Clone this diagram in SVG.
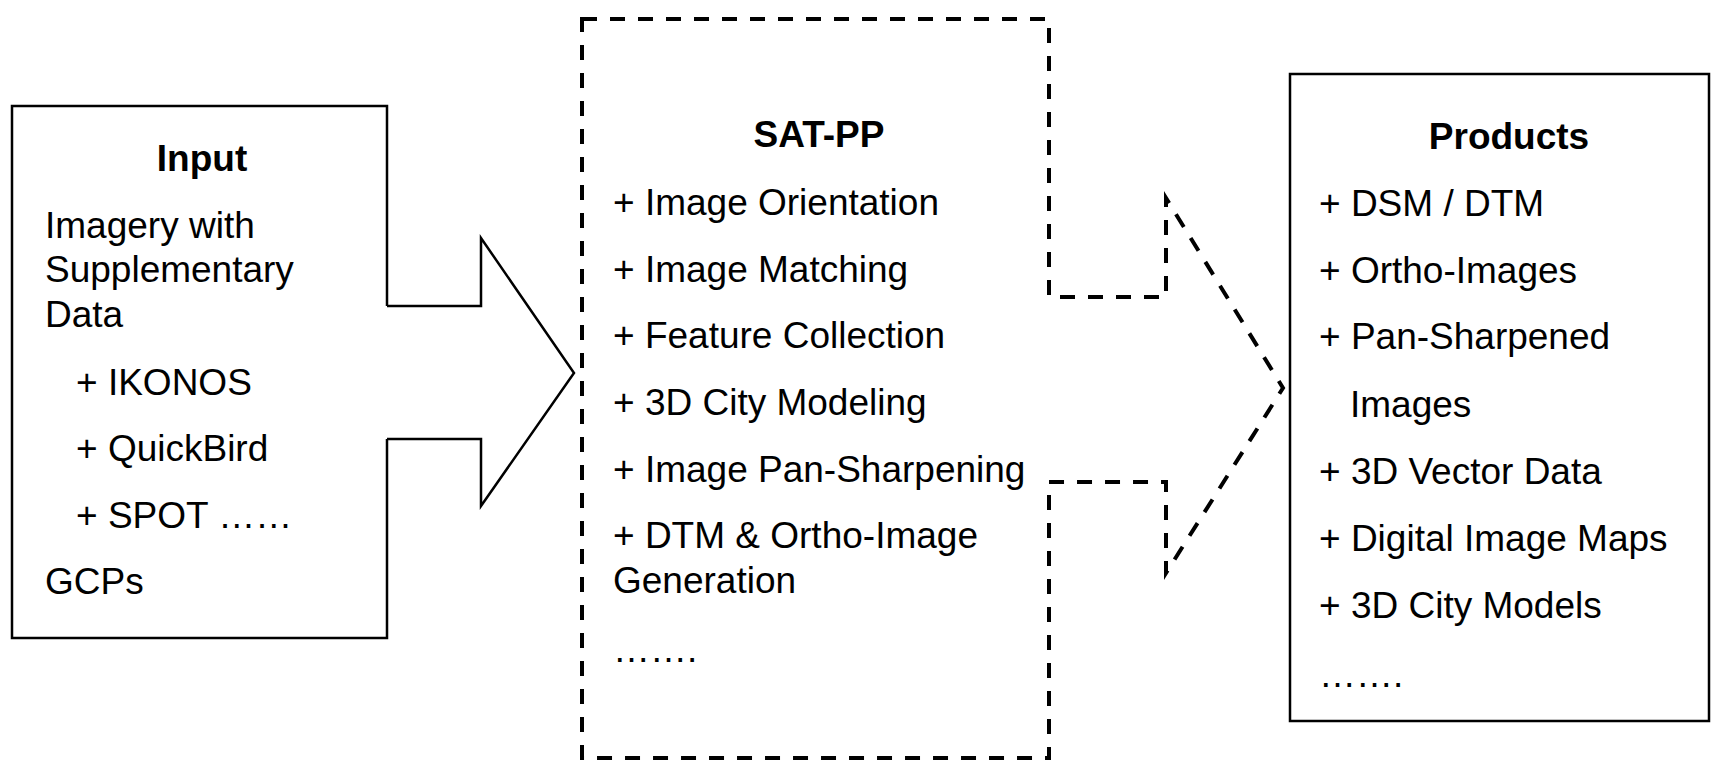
<svg xmlns="http://www.w3.org/2000/svg" width="1711" height="762" viewBox="0 0 1711 762">
<style>
text { font-family: "Liberation Sans", Arial, sans-serif; font-size: 37px; fill: #000; }
.t { font-weight: bold; text-anchor: middle; }
.solid { fill: none; stroke: #000; stroke-width: 2.5; stroke-linejoin: miter; }
.dash { fill: none; stroke: #000; stroke-width: 4; stroke-dasharray: 15 13; stroke-linejoin: miter; }
</style>
<rect width="1711" height="762" fill="#fff"/>
<g id="connectors">
<path class="solid" d="M387,306 H481 V238 L574,373 L481,506 V439 H387"/>
</g>
<g id="input">
<path class="solid" d="M387,306 V106 H12 V638 H387 V439"/>
<text class="t" x="202" y="171">Input</text>
<text x="45" y="238">Imagery with</text>
<text x="45" y="282">Supplementary</text>
<text x="45" y="327">Data</text>
<text x="76" y="395">+ IKONOS</text>
<text x="76" y="461">+ QuickBird</text>
<text x="76" y="528">+ SPOT ……</text>
<text x="45" y="594">GCPs</text>
</g>
<g id="satpp">
<path class="dash" d="M582,19 H1049 V297 H1166 V198 L1283,388 L1166,573 V482 H1049 V758 H582 Z"/>
<text class="t" x="819" y="147">SAT-PP</text>
<text x="613" y="215">+ Image Orientation</text>
<text x="613" y="282">+ Image Matching</text>
<text x="613" y="348">+ Feature Collection</text>
<text x="613" y="415">+ 3D City Modeling</text>
<text x="613" y="482">+ Image Pan-Sharpening</text>
<text x="613" y="548">+ DTM &amp; Ortho-Image</text>
<text x="613" y="593">Generation</text>
<text x="613" y="662">…….</text>
</g>
<g id="products">
<rect class="solid" x="1290" y="74" width="419" height="647"/>
<text class="t" x="1509" y="149">Products</text>
<text x="1319" y="216">+ DSM / DTM</text>
<text x="1319" y="283">+ Ortho-Images</text>
<text x="1319" y="349">+ Pan-Sharpened</text>
<text x="1350" y="417">Images</text>
<text x="1319" y="484">+ 3D Vector Data</text>
<text x="1319" y="551">+ Digital Image Maps</text>
<text x="1319" y="618">+ 3D City Models</text>
<text x="1319" y="687">…….</text>
</g>
</svg>
